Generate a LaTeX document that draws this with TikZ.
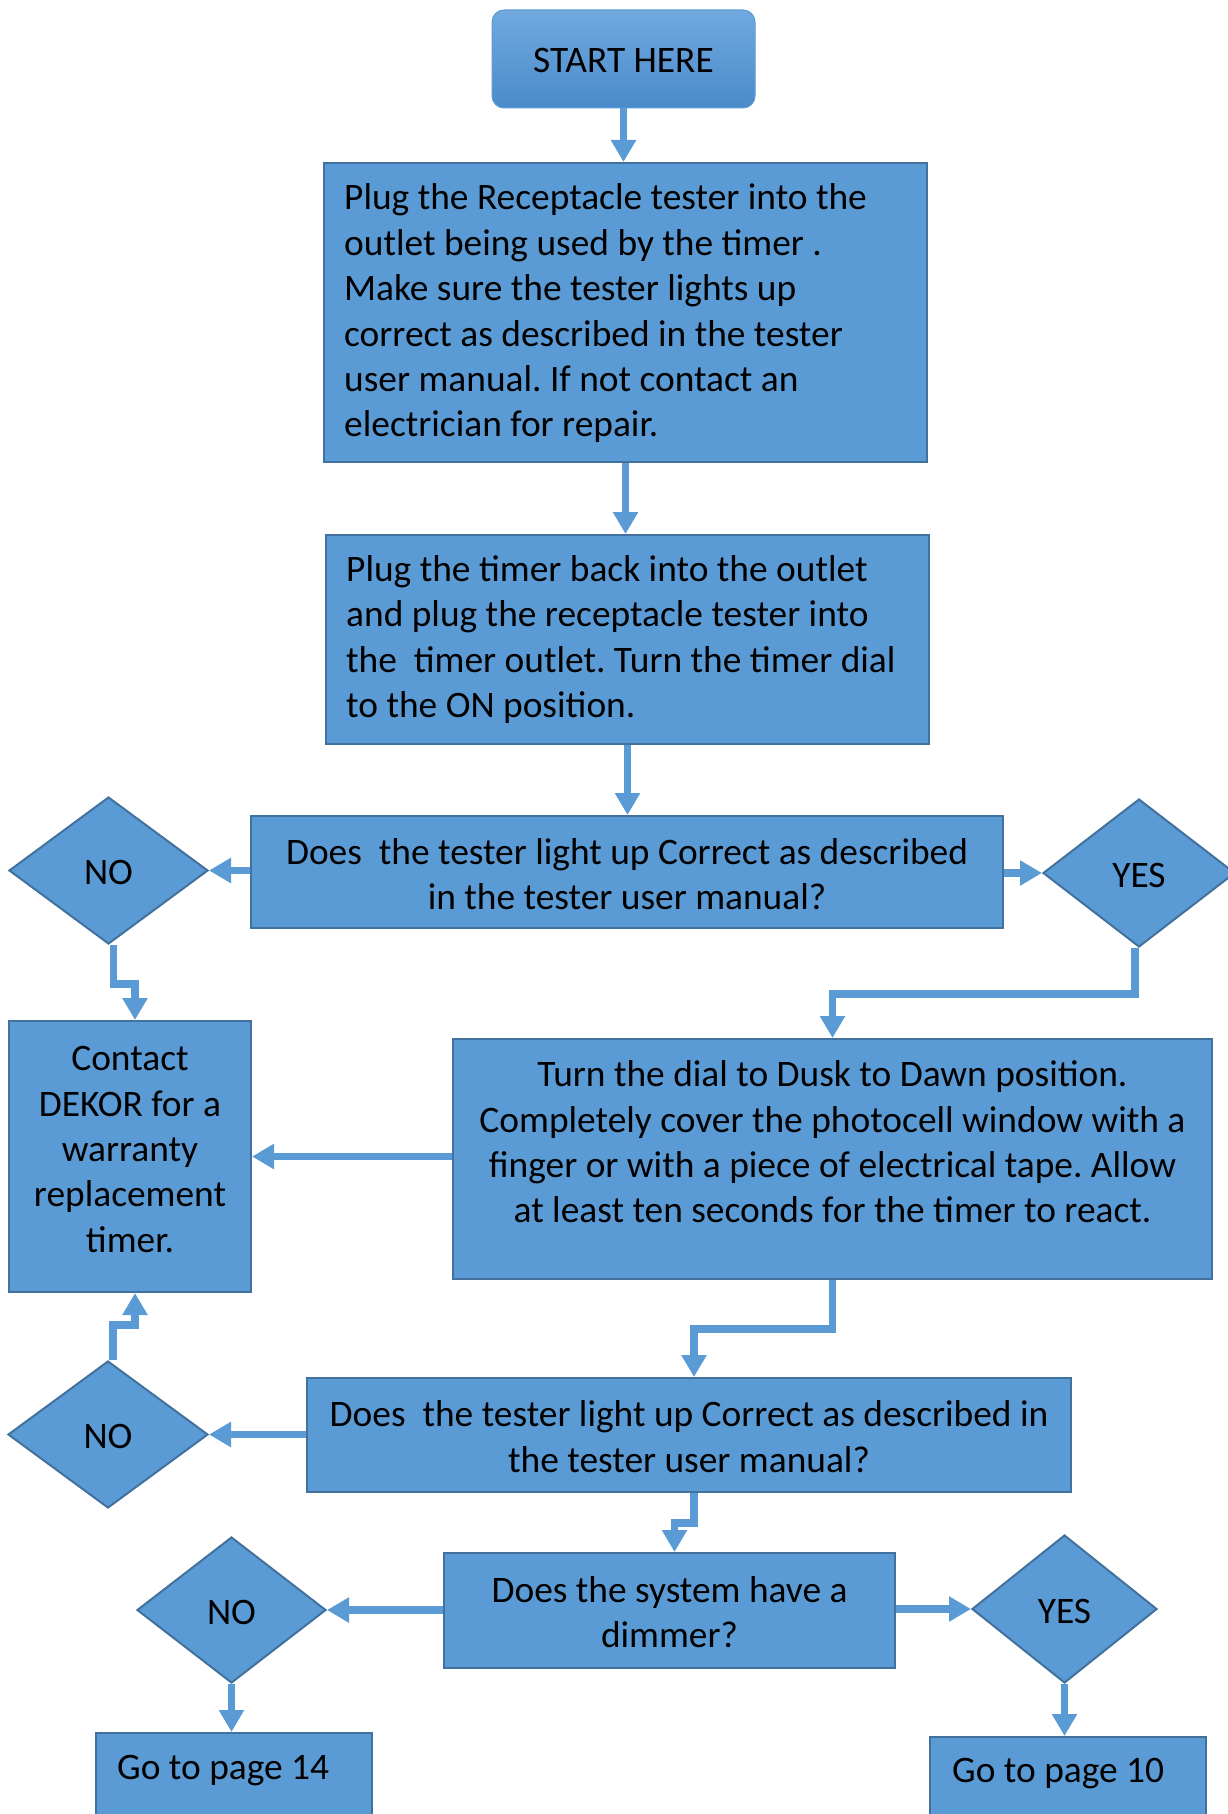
\documentclass[tikz,border=0pt]{standalone}
\usepackage{fontspec}
\setmainfont{Carlito}
\usetikzlibrary{shapes.geometric,arrows.meta}
\definecolor{boxfill}{HTML}{5B9BD5}
\definecolor{boxline}{HTML}{41719C}
\definecolor{wire}{HTML}{5B9BD5}
\definecolor{starttop}{HTML}{71A9DF}
\definecolor{startbot}{HTML}{4A8BCB}
\newcommand{\chartfont}{\fontsize{37.4pt}{45.4pt}\selectfont\frenchspacing}
\begin{document}
\begin{tikzpicture}[x=1pt,y=-1pt,
  box/.style={draw=boxline, line width=2pt, fill=boxfill, rectangle,
    inner sep=0pt, font=\chartfont, text=black},
  choice/.style={draw=boxline, line width=2pt, fill=boxfill, diamond,
    inner sep=0pt, font=\chartfont, text=black, text height=35pt, text depth=7pt},
  words/.style={inner sep=0pt, font=\chartfont, text=black},
  conn/.style={draw=wire, line width=7.5pt,
    -{Triangle[length=22pt,width=24pt]}},
]
\useasboundingbox (0,0) rectangle (1228,1814);
\clip (0,0) rectangle (1228,1814);

% start terminal
\node[rounded corners=12pt, draw=boxfill, line width=1pt,
  top color=starttop, bottom color=startbot,
  minimum width=263pt, minimum height=98pt, inner sep=0pt,
  text height=35pt, text depth=7pt,
  font=\chartfont] (start) at (623.5,59) {START HERE};

% process steps
\node[box, minimum width=603pt, minimum height=299pt] (b1) at (625.5,312.5) {};
\node[words, anchor=west, align=left] (t1) at (344,313.5)
  {Plug the Receptacle tester into the\\
   outlet being used by the timer .\\
   Make sure the tester lights up\\
   correct as described in the tester\\
   user manual. If not contact an\\
   electrician for repair.};

\node[box, minimum width=603pt, minimum height=209pt] (b2) at (627.5,639.5) {};
\node[words, anchor=west, align=left] (t2) at (346,639.5)
  {Plug the timer back into the outlet\\
   and plug the receptacle tester into\\
   the~ timer outlet. Turn the timer dial\\
   to the ON position.};

\node[box, minimum width=752pt, minimum height=112pt] (b3) at (627,872) {};
\node[words, align=center] (t3) at (627,874)
  {Does~ the tester light up Correct as described\\
   in the tester user manual?};

\node[box, minimum width=242pt, minimum height=271pt] (contact) at (130,1156.5) {};
\node[words, align=center] (tc) at (130,1149.5)
  {Contact\\ DEKOR for a\\ warranty\\ replacement\\ timer.};

\node[box, minimum width=759pt, minimum height=240pt] (b4) at (832.5,1159) {};
\node[words, align=center] (t4) at (832.5,1142)
  {Turn the dial to Dusk to Dawn position.\\
   Completely cover the photocell window with a\\
   finger or with a piece of electrical tape. Allow\\
   at least ten seconds for the timer to react.};

\node[box, minimum width=764pt, minimum height=114pt] (b5) at (689,1435) {};
\node[words, align=center] (t5) at (689,1436.5)
  {Does~ the tester light up Correct as described in\\
   the tester user manual?};

\node[box, minimum width=451pt, minimum height=115pt] (b6) at (669.5,1610.5) {};
\node[words, align=center] (t6) at (669.5,1612)
  {Does the system have a\\ dimmer?};

% decisions
\node[choice, minimum width=199pt, minimum height=147pt] (no1) at (108.5,870.5) {NO};
\node[choice, minimum width=192pt, minimum height=148pt] (yes1) at (1139,873) {YES};
\node[choice, minimum width=200pt, minimum height=147pt] (no2) at (108,1434.5) {NO};
\node[choice, minimum width=189pt, minimum height=146pt] (no3) at (231.5,1610) {NO};
\node[choice, minimum width=185pt, minimum height=148pt] (yes3) at (1064.5,1609) {YES};

% page references
\node[box, minimum width=276pt, minimum height=120pt] (go14) at (234,1793) {};
\node[words, anchor=west] (t14) at (117,1770.5) {Go to page 14};
\node[box, minimum width=276pt, minimum height=120pt] (go10) at (1068,1797) {};
\node[words, anchor=west] (t10) at (952,1773.5) {Go to page 10};

% connectors
\draw[conn] (start.south) -- (start.south |- b1.north);
\draw[conn] (b1.south) -- (b1.south |- b2.north);
\draw[conn] (b2.south) -- (b2.south |- b3.north);
\draw[conn] (no1.east -| b3.west) -- (no1.east);
\draw[conn] (yes1.west -| b3.east) -- (yes1.west);
\draw[conn] ([xshift=5pt]no1.south) -- ++(0,39) -| ([xshift=5pt]contact.north);
\draw[conn] ([xshift=-4pt]yes1.south) -- ++(0,46) -| (b4.north);
\draw[conn] (contact.east -| b4.west) -- (contact.east);
\draw[conn] (b4.south) -- ++(0,49) -| ([xshift=5pt]b5.north);
\draw[conn] (no2.east -| b5.west) -- (no2.east);
\draw[conn] ([xshift=5pt]no2.north) -- ++(0,-35) -| ([xshift=5pt]contact.south);
\draw[conn] ([xshift=5pt]b5.south) -- ++(0,30) -| ([xshift=5pt]b6.north);
\draw[conn] (no3.east -| b6.west) -- (no3.east);
\draw[conn] (yes3.west -| b6.east) -- (yes3.west);
\draw[conn] (no3.south) -- (no3.south |- go14.north);
\draw[conn] (yes3.south) -- (yes3.south |- go10.north);
\end{tikzpicture}
\end{document}
